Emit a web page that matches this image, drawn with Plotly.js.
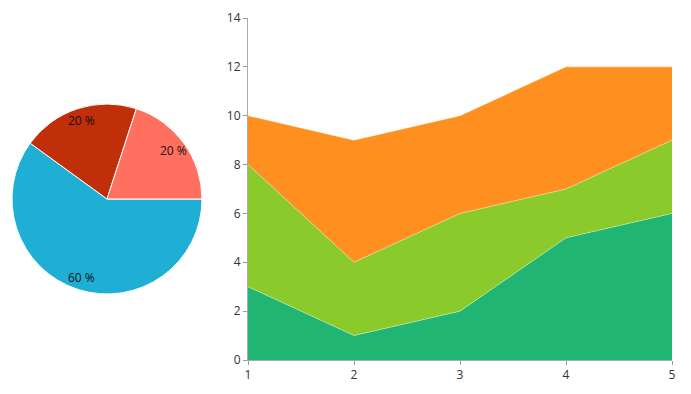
<!DOCTYPE html>
<html><head><meta charset="utf-8">
<script src="https://cdn.plot.ly/plotly-3.0.1.min.js"></script>
<style>html,body{margin:0;padding:0;background:#fff;}#chart{width:691px;height:394px;}</style>
</head><body><div id="chart"></div>
<script>
// Pie data (drawn clockwise from 3 o'clock)
const pieLabels = ['C', 'B', 'A'];
const pieValues = [60, 20, 20];
const pieColors = ['#20afd4', '#c02e0a', '#ff7061'];

// Stacked area data
const xCats = [1, 2, 3, 4, 5];
const seriesBottom = [3, 1, 2, 5, 6];
const seriesMiddle = [5, 3, 4, 2, 3];
const seriesTop = [2, 5, 4, 5, 3];
const areaColors = ['#21b573', '#8acb2b', '#ff9020'];
const yTicks = [0, 2, 4, 6, 8, 10, 12, 14];

const W = 691, H = 394;
const font = {family: 'Open Sans, Noto Sans, sans-serif', size: 12, color: '#333'};

const areaSeries = [seriesBottom, seriesMiddle, seriesTop];
const traces = areaSeries.map((vals, i) => ({
  type: 'scatter', mode: 'lines', x: xCats, y: vals,
  stackgroup: 'one', fillcolor: areaColors[i],
  line: {color: 'rgba(255,255,255,0.35)', width: 1},
  hoverinfo: 'skip', showlegend: false,
  xaxis: 'x', yaxis: 'y'
}));

// pie geometry (pixels)
const pieCx = 107, pieCy = 199, pieR = 95;
traces.push({
  type: 'pie', labels: pieLabels, values: pieValues, sort: false,
  direction: 'clockwise', rotation: 90,
  marker: {colors: pieColors, line: {color: '#fff', width: 1}},
  textinfo: 'none',
  domain: {x: [(pieCx - pieR)/W, (pieCx + pieR)/W], y: [(H - pieCy - pieR)/H, (H - pieCy + pieR)/H]},
  hoverinfo: 'skip', showlegend: false
});

// percentage labels placed near the outer rim, computed from the pie values
const total = pieValues.reduce((a, b) => a + b, 0);
const annotations = [];
let cum = 0;
pieValues.forEach(v => {
  const mid = -(cum + v / 2) / total * 2 * Math.PI;
  cum += v;
  const r = pieR * 0.87;
  const px = pieCx + r * Math.cos(mid);
  const py = pieCy - r * Math.sin(mid);
  annotations.push({
    xref: 'paper', yref: 'paper', x: px / W, y: (H - py) / H,
    text: Math.round(v / total * 100) + ' %', showarrow: false,
    xanchor: 'center', yanchor: 'middle',
    font: {family: font.family, size: 12, color: '#111'}
  });
});

const layout = {
  width: W, height: H,
  margin: {l: 0, r: 0, t: 0, b: 0},
  paper_bgcolor: '#fff', plot_bgcolor: '#fff',
  font: font, showlegend: false, annotations: annotations,
  xaxis: {
    domain: [248/W, 672/W], range: [1, 5],
    tickvals: xCats, ticks: 'outside', ticklen: 4, tickcolor: '#999',
    showline: true, linecolor: '#aaa', linewidth: 1,
    showgrid: false, zeroline: false, tickfont: font
  },
  yaxis: {
    domain: [34/H, 376/H], range: [0, 14],
    tickvals: yTicks, ticks: 'outside', ticklen: 4, tickcolor: '#999',
    showline: true, linecolor: '#aaa', linewidth: 1,
    showgrid: false, zeroline: false, tickfont: font
  }
};

Plotly.newPlot('chart', traces, layout, {staticPlot: true, displayModeBar: false});
</script></body></html>
